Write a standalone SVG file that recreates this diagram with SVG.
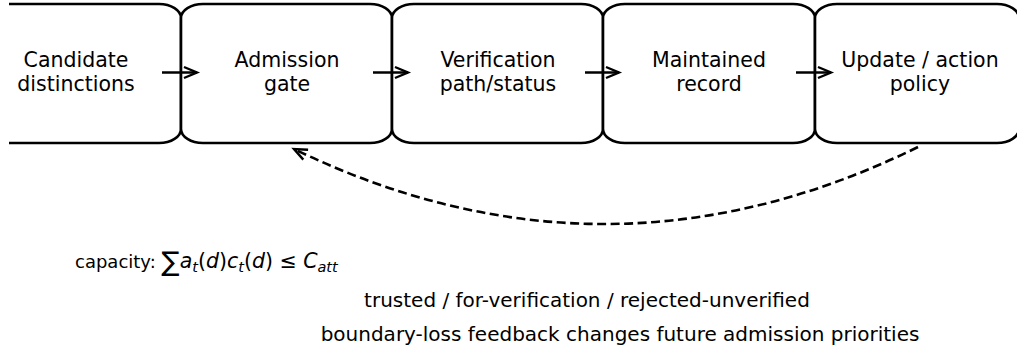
<svg xmlns="http://www.w3.org/2000/svg" width="1017" height="349" viewBox="0 0 1017 349">
<style>
.box{fill:#fff;stroke:#000;stroke-width:2.6}
.lbl{font-family:"DejaVu Sans",sans-serif;font-size:20.5px;text-anchor:middle;fill:#000}
.note{font-family:"DejaVu Sans",sans-serif;font-size:20px;fill:#000}
.conn{fill:none;stroke:#000;stroke-width:2.6}
.m{font-style:italic;font-size:20.5px}
.s{font-style:italic;font-size:14.5px}
</style>
<defs>
<marker id="chev" markerUnits="userSpaceOnUse" markerWidth="20" markerHeight="20" refX="14" refY="6" orient="auto" overflow="visible">
<path d="M1,0.5 L14,6 L1,11.5" fill="none" stroke="#000" stroke-width="2.4" stroke-dasharray="none"/>
</marker>
</defs>
<rect width="1017" height="349" fill="#fff"/>
<g id="n1">
<path class="box" d="M9,4 H159 A22,14 0 0 1 181,18 V129 A22,14 0 0 1 159,143 H9"/>
<text class="lbl" x="76" y="67">Candidate</text>
<text class="lbl" x="76" y="91">distinctions</text>
</g>
<g id="n2">
<path class="box" d="M203,4 H370 A22,14 0 0 1 392,18 V129 A22,14 0 0 1 370,143 H203 A22,14 0 0 1 181,129 V18 A22,14 0 0 1 203,4 Z"/>
<text class="lbl" x="287" y="67">Admission</text>
<text class="lbl" x="287" y="91">gate</text>
</g>
<g id="n3">
<path class="box" d="M414,4 H581 A22,14 0 0 1 603,18 V129 A22,14 0 0 1 581,143 H414 A22,14 0 0 1 392,129 V18 A22,14 0 0 1 414,4 Z"/>
<text class="lbl" x="498" y="67">Verification</text>
<text class="lbl" x="498" y="91">path/status</text>
</g>
<g id="n4">
<path class="box" d="M625,4 H793 A22,14 0 0 1 815,18 V129 A22,14 0 0 1 793,143 H625 A22,14 0 0 1 603,129 V18 A22,14 0 0 1 625,4 Z"/>
<text class="lbl" x="709" y="67">Maintained</text>
<text class="lbl" x="709" y="91">record</text>
</g>
<g id="n5">
<path class="box" d="M837,4 H997 A22,14 0 0 1 1019,18 V129 A22,14 0 0 1 997,143 H837 A22,14 0 0 1 815,129 V18 A22,14 0 0 1 837,4 Z"/>
<text class="lbl" x="920" y="67">Update / action</text>
<text class="lbl" x="920" y="91">policy</text>
</g>
<g id="connectors">
<line class="conn" x1="162" y1="72.5" x2="197" y2="72.5" marker-end="url(#chev)"/>
<line class="conn" x1="373" y1="72.5" x2="408" y2="72.5" marker-end="url(#chev)"/>
<line class="conn" x1="585" y1="72.5" x2="619" y2="72.5" marker-end="url(#chev)"/>
<line class="conn" x1="796" y1="72.5" x2="831" y2="72.5" marker-end="url(#chev)"/>
<path class="conn" d="M918,147 Q606,300 294,149" stroke-dasharray="9,4.5" marker-end="url(#chev)"/>
</g>
<g id="notes">
<text class="note" x="75" y="268" style="font-size:18px">capacity: <tspan style="font-size:27px" dy="3">∑</tspan><tspan class="m" dy="-3">a</tspan><tspan class="s" dy="4">t</tspan><tspan style="font-size:20.5px" dy="-4">(</tspan><tspan class="m">d</tspan><tspan style="font-size:20.5px">)</tspan><tspan class="m">c</tspan><tspan class="s" dy="4">t</tspan><tspan style="font-size:20.5px" dy="-4">(</tspan><tspan class="m">d</tspan><tspan style="font-size:20.5px">) ≤ </tspan><tspan class="m">C</tspan><tspan class="s" dy="4">att</tspan></text>
<text class="note" x="587" y="307" text-anchor="middle">trusted / for-verification / rejected-unverified</text>
<text class="note" x="620" y="341" text-anchor="middle">boundary-loss feedback changes future admission priorities</text>
</g>
</svg>
